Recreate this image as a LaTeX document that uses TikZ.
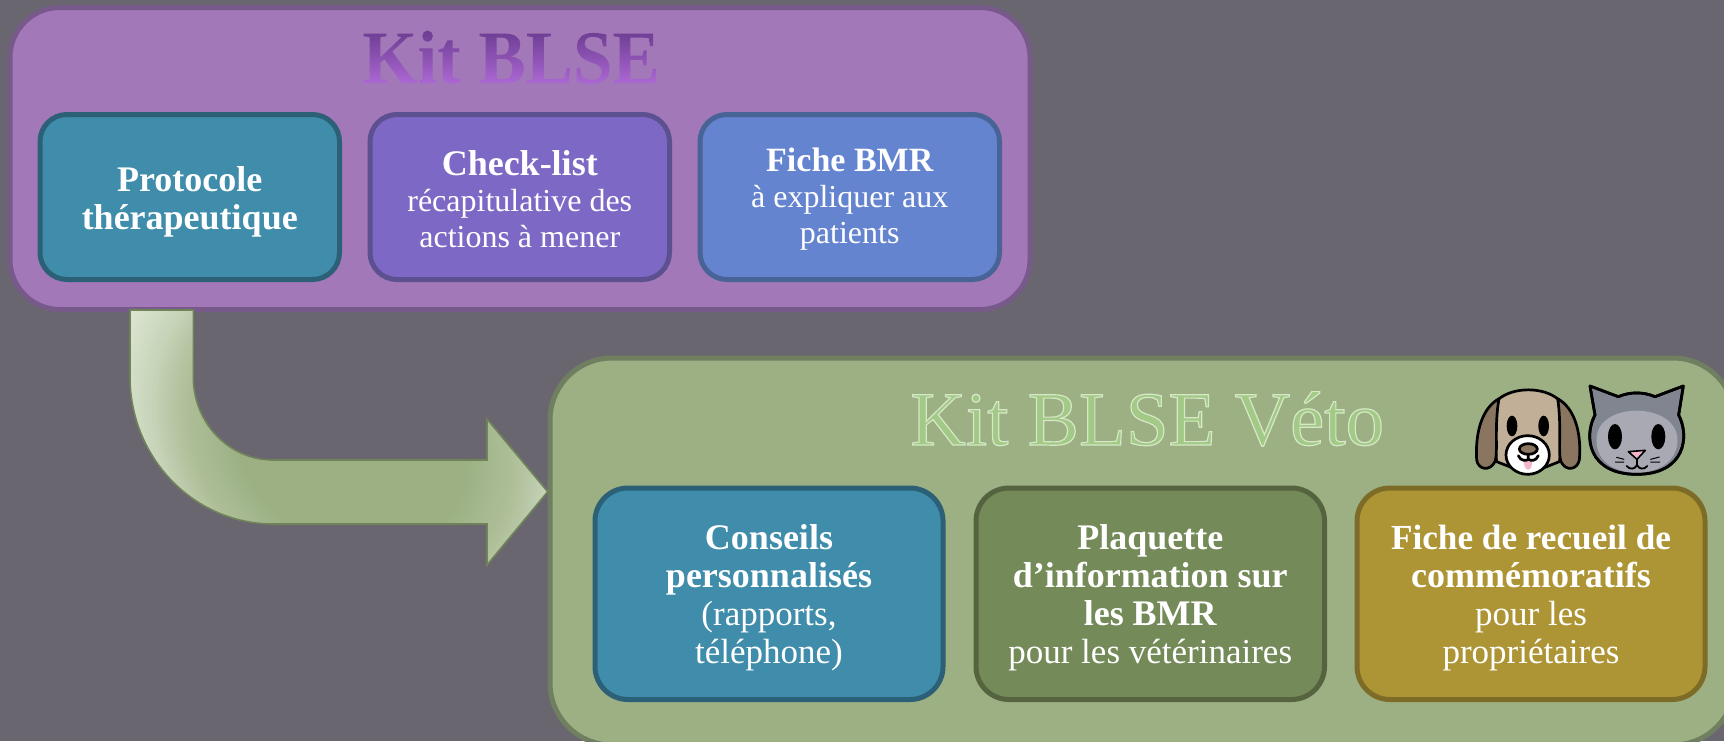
\documentclass[tikz,border=0pt]{standalone}
\usepackage{fontspec}
\setmainfont{Liberation Serif}
\newfontfamily\kitfont[FakeStretch=0.937]{Liberation Serif Bold}
\definecolor{bgc}{HTML}{696670}
\definecolor{kitpanel}{HTML}{A278B8}
\definecolor{kitline}{HTML}{775A8A}
\definecolor{vetpanel}{HTML}{9CB084}
\definecolor{vetline}{HTML}{6F7F5F}
\definecolor{tealf}{HTML}{3F8CAB}
\definecolor{teall}{HTML}{2C6076}
\definecolor{violf}{HTML}{7D69C5}
\definecolor{violl}{HTML}{5C5090}
\definecolor{bluef}{HTML}{6484CF}
\definecolor{bluel}{HTML}{486497}
\definecolor{greenf}{HTML}{748A58}
\definecolor{greenl}{HTML}{55643F}
\definecolor{goldf}{HTML}{AD9536}
\definecolor{goldl}{HTML}{7D6C27}
\definecolor{kittop}{HTML}{65388A}
\definecolor{kitbot}{HTML}{B06AD8}
\definecolor{vetfill}{HTML}{A2C985}
\definecolor{glowa}{HTML}{9CB084}
\definecolor{glowb}{HTML}{AFC09A}
\definecolor{glowc}{HTML}{C8D5BA}
\definecolor{glowd}{HTML}{DDE6D3}
\definecolor{arrowline}{HTML}{6F8259}
\definecolor{dogface}{HTML}{C1B097}
\definecolor{dogear}{HTML}{8A7660}
\definecolor{tongue}{HTML}{F5B5CC}
\definecolor{cathead}{HTML}{808590}
\definecolor{catface}{HTML}{A8A9B3}
\pgfdeclareverticalshading{kitgrad}{170bp}{color(0bp)=(kitbot);color(31bp)=(kittop)}
\newcommand{\bt}[1]{{\fontsize{18}{19}\selectfont\bfseries #1}}
\newcommand{\btn}[1]{{\fontsize{17.6}{19}\selectfont\bfseries #1}}
\newcommand{\rs}[1]{{\fontsize{16}{18}\selectfont #1}}
\newcommand{\rb}[1]{{\fontsize{17.5}{19}\selectfont #1}}
\tikzset{
  panel/.style={draw,line width=2.5pt,rounded corners=#1,inner sep=0pt},
  infobox/.style={draw,line width=2.5pt,align=center,inner sep=0pt,outer sep=0pt,anchor=north west},
  smallbox/.style={infobox,rounded corners=13.5pt,minimum width=149.75pt,minimum height=82.5pt},
  bigbox/.style={infobox,rounded corners=16.5pt,minimum width=174pt,minimum height=105.75pt},
  toptext/.style={text=white,align=center,inner sep=0pt,yshift=-1.2pt,font=\fontsize{18}{18}\selectfont},
  bottext/.style={text=white,align=center,inner sep=0pt,yshift=-2.2pt,font=\fontsize{18}{19}\selectfont},
  emo/.style={draw=black,line width=1.35pt,line join=round,line cap=round}
}
\begin{document}
\begin{tikzpicture}[x=0.5pt,y=-0.5pt]
\useasboundingbox (0,0) rectangle (1724,741);
\clip (0,0) rectangle (1724,741);
\fill[bgc] (0,0) rectangle (1724,741);
% panels
\path[panel=25pt,draw=kitline,fill=kitpanel] (10,7.5) rectangle (1030,309.5);
\path[panel=31pt,draw=vetline,fill=vetpanel] (550,358) rectangle (1735,745);
% block arrow
\begin{scope}
\clip (130,310) -- (193.3,310) -- (193.3,377) .. controls (193.3,423) and (229,460) .. (273,460) -- (487,460) -- (487,419) -- (547.7,491.7) -- (487,565) -- (487,524) -- (273,524) .. controls (194,524) and (130,458) .. (130,377) -- cycle;
\fill[glowd] (100,290) rectangle (560,580);
\foreach \i in {100,...,1}{
  \pgfmathsetmacro{\rr}{\i/100}
  \pgfmathtruncatemacro{\seg}{\rr>0.86 ? 0 : (\rr>0.72 ? 1 : (\rr>0.60 ? 2 : 3))}
  \ifnum\seg=0 \colorlet{cc}{glowd}\fi
  \ifnum\seg=1 \pgfmathsetmacro{\pc}{(\rr-0.72)/0.14*100}\colorlet{cc}{glowd!\pc!glowc}\fi
  \ifnum\seg=2 \pgfmathsetmacro{\pc}{(\rr-0.60)/0.12*100}\colorlet{cc}{glowc!\pc!glowb}\fi
  \ifnum\seg=3 \pgfmathsetmacro{\pc}{max(0,(\rr-0.42)/0.18*100)}\colorlet{cc}{glowb!\pc!glowa}\fi
  \fill[cc,rotate around={-41:(350,440)}] (350,440) ellipse[x radius=\rr*300,y radius=\rr*250];
}
\end{scope}
\draw[arrowline,line width=0.8pt,line join=miter] (130,310) -- (193.3,310) -- (193.3,377) .. controls (193.3,423) and (229,460) .. (273,460) -- (487,460) -- (487,419) -- (547.7,491.7) -- (487,565) -- (487,524) -- (273,524) .. controls (194,524) and (130,458) .. (130,377) -- cycle;
% titles
\node[anchor=base west,inner sep=0pt] (kittitle) at (362,83) {\fontsize{37.8}{40}\kitfont\special{pdf:code q 7 Tr}\rlap{Kit BLSE}\special{pdf:code 0 Tr}\lower2pt\rlap{\pgfuseshading{kitgrad}}\special{pdf:code Q}\phantom{Kit BLSE}};
\node[anchor=base west,inner sep=0pt,text=vetfill] (vettitle) at (910,445) {\fontsize{38.4}{40}\selectfont\special{pdf:code q 2 Tr 0.6 w 0.84 0.91 0.78 RG}Kit BLSE Véto\special{pdf:code Q}};
% top row
\node[smallbox,draw=teall,fill=tealf] (proto) at (40,114.5) {};
\node[toptext,yshift=-1pt,font=\fontsize{18}{19}\selectfont] (protot) at (proto.center) {\bt{Protocole}\\\bt{thérapeutique}};
\node[smallbox,draw=violl,fill=violf] (check) at (370,114.5) {};
\node[toptext] (checkt) at (check.center) {\bt{Check-list}\\\rs{récapitulative des}\\\rs{actions à mener}};
\node[smallbox,draw=bluel,fill=bluef] (bmr) at (700,114.5) {};
\node[toptext] (bmrt) at (bmr.center) {{\fontsize{17}{18}\selectfont\bfseries Fiche BMR}\\\rs{à expliquer aux}\\\rs{patients}};
% bottom row
\node[bigbox,draw=teall,fill=tealf] (cons) at (595,488) {};
\node[bottext] (const) at (cons.center) {\bt{Conseils}\\\bt{personnalisés}\\\rb{(rapports,}\\\rb{téléphone)}};
\node[bigbox,draw=greenl,fill=greenf,minimum width=174.25pt] (plaq) at (976,488) {};
\node[bottext] (plaqt) at (plaq.center) {\bt{Plaquette}\\\bt{d’information sur}\\\bt{les BMR}\\\rb{pour les vétérinaires}};
\node[bigbox,draw=goldl,fill=goldf] (fiche) at (1357,488) {};
\node[bottext] (fichet) at (fiche.center) {\btn{Fiche de recueil de}\\\bt{commémoratifs}\\\rb{pour les}\\\rb{propriétaires}};
% dog
\begin{scope}[shift={(1400,340)},scale=0.3333]
\draw[emo,fill=dogface] (295,178) .. controls (340,140) and (430,140) .. (475,178) .. controls (490,260) and (485,330) .. (478,365) -- (385,402) -- (290,365) .. controls (285,330) and (280,260) .. (295,178) -- cycle;
\draw[emo,fill=dogear] (297,176) .. controls (245,205) and (225,280) .. (230,360) .. controls (235,390) and (270,395) .. (285,365) .. controls (295,340) and (282,260) .. (297,176) -- cycle;
\draw[emo,fill=dogear] (473,176) .. controls (525,205) and (545,280) .. (538,360) .. controls (532,390) and (497,395) .. (483,365) .. controls (473,340) and (486,260) .. (473,176) -- cycle;
\draw[emo,fill=white] (383,345) ellipse[x radius=65,y radius=58];
\fill[tongue] (371,362) -- (396,362) .. controls (398,398) and (372,398) .. (371,362) -- cycle;
\draw[emo,fill=dogear] (385,327) ellipse[x radius=27,y radius=16];
\draw[emo] (385,345) -- (385,358) (355,347) .. controls (362,365) and (380,362) .. (385,358) .. controls (392,362) and (408,365) .. (415,347);
\fill[black] (336,258) ellipse[x radius=16,y radius=31] (431,258) ellipse[x radius=16,y radius=31];
% cat
\draw[emo,fill=cathead] (570,138) -- (655,170) .. controls (690,155) and (730,155) .. (765,170) -- (850,138) -- (836,225) .. controls (870,290) and (855,403) .. (710,403) .. controls (565,403) and (550,290) .. (585,225) -- cycle;
\fill[catface] (590,290) .. controls (595,240) and (650,212) .. (710,212) .. controls (770,212) and (825,240) .. (832,290) .. controls (838,360) and (780,398) .. (710,398) .. controls (640,398) and (583,360) .. (590,290) -- cycle;
\draw[emo] (570,138) -- (655,170) .. controls (690,155) and (730,155) .. (765,170) -- (850,138) -- (836,225) .. controls (870,290) and (855,403) .. (710,403) .. controls (565,403) and (550,290) .. (585,225) -- cycle;
\fill[black] (645,290) ellipse[x radius=21,y radius=38] (775,290) ellipse[x radius=21,y radius=38];
\draw[emo,line width=0.8pt,fill=tongue] (685,335) -- (736,331) -- (711,358) -- cycle;
\draw[emo,line width=0.9pt] (711,358) -- (711,375) (680,378) .. controls (690,390) and (705,388) .. (711,375) .. controls (717,388) and (732,390) .. (742,378);
\draw[emo,line width=0.5pt] (650,352) -- (672,358) (646,366) -- (672,366) (752,358) -- (778,351) (752,366) -- (780,366);
\end{scope}
\end{tikzpicture}
\end{document}
